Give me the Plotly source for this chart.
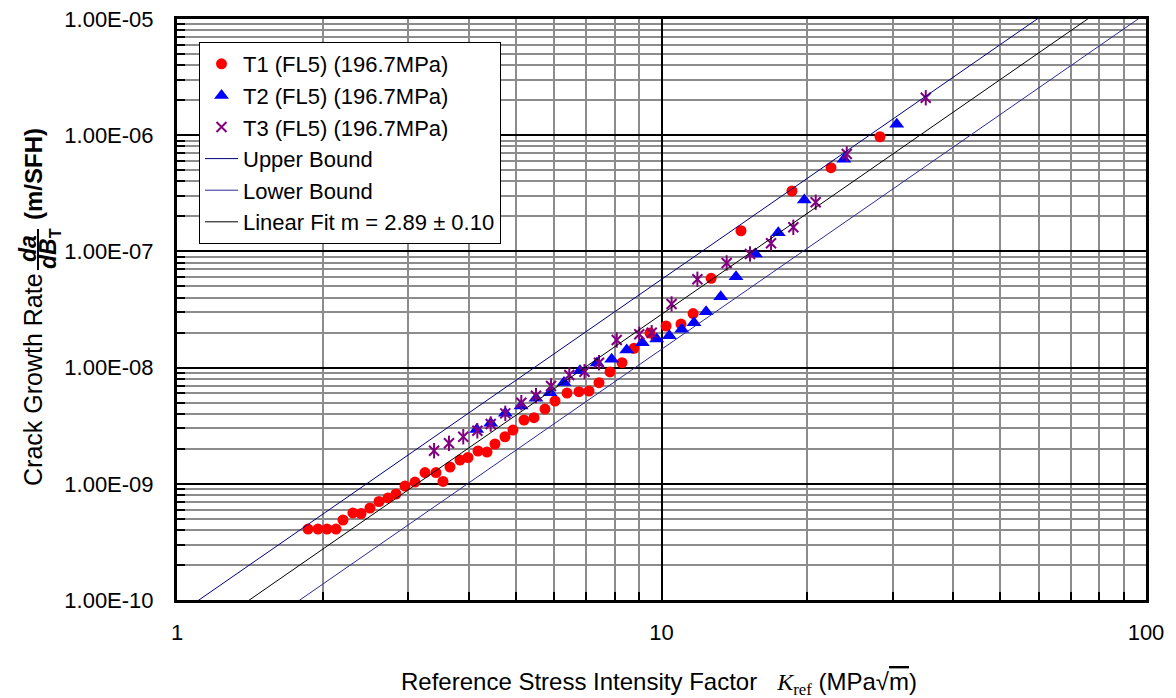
import plotly.graph_objects as go

# ---------------- data ----------------
T1_K = [1.864, 1.954, 2.040, 2.129, 2.201, 2.307, 2.398, 2.502, 2.612, 2.726, 2.831, 2.955,
        3.099, 3.250, 3.424, 3.540, 3.660, 3.838, 3.987, 4.181, 4.363, 4.532, 4.753, 4.937,
        5.203, 5.456, 5.748, 6.029, 6.383, 6.756, 7.086, 7.430, 7.829, 8.289, 8.773, 9.469,
        10.22, 10.97, 11.62, 12.66, 14.59, 18.59, 22.38, 28.25]
T1_rate = [4.08e-10, 4.08e-10, 4.08e-10, 4.08e-10, 4.88e-10, 5.61e-10, 5.55e-10, 6.19e-10,
           7.04e-10, 7.55e-10, 8.17e-10, 9.57e-10, 1.036e-9, 1.25e-9, 1.25e-9, 1.047e-9,
           1.395e-9, 1.60e-9, 1.684e-9, 1.915e-9, 1.878e-9, 2.20e-9, 2.54e-9, 2.90e-9,
           3.54e-9, 3.71e-9, 4.40e-9, 5.16e-9, 6.04e-9, 6.20e-9, 6.29e-9, 7.42e-9, 9.17e-9,
           1.102e-8, 1.466e-8, 1.985e-8, 2.28e-8, 2.37e-8, 2.92e-8, 5.87e-8, 1.506e-7,
           3.31e-7, 5.25e-7, 9.70e-7]

T2_K = [4.155, 4.441, 4.760, 5.129, 5.508, 5.888, 6.292, 6.788, 7.360, 7.890, 8.477, 9.129,
        9.774, 10.38, 11.01, 11.67, 12.36, 13.25, 14.25, 15.63, 17.42, 19.71, 23.80, 30.59]
T2_rate = [2.94e-9, 3.32e-9, 4.04e-9, 4.67e-9, 5.44e-9, 6.08e-9, 7.44e-9, 9.40e-9, 1.095e-8,
           1.179e-8, 1.417e-8, 1.637e-8, 1.762e-8, 1.88e-8, 2.14e-8, 2.43e-8, 3.03e-8,
           4.08e-8, 6.06e-8, 9.50e-8, 1.449e-7, 2.77e-7, 6.20e-7, 1.241e-6]

T3_K = [3.393, 3.642, 3.898, 4.168, 4.441, 4.760, 5.136, 5.508, 5.916, 6.452, 6.936, 7.430,
        8.083, 8.998, 9.546, 10.49, 11.86, 13.63, 15.23, 16.83, 18.71, 20.81, 24.12, 35.11]
T3_rate = [1.927e-9, 2.23e-9, 2.54e-9, 2.86e-9, 3.27e-9, 4.04e-9, 4.99e-9, 5.73e-9, 6.95e-9,
           8.64e-9, 9.22e-9, 1.102e-8, 1.728e-8, 1.934e-8, 1.996e-8, 3.53e-8, 5.75e-8,
           7.95e-8, 9.50e-8, 1.174e-7, 1.612e-7, 2.65e-7, 6.89e-7, 2.10e-6]

# Paris-law fit  da/dB = C * K^m, bounds = factor of 2 either side
FIT_C = 3.7e-11
FIT_M = 2.89
BOUND_FACTOR = 2.0
LINE_K = [1.0, 100.0]

X_TICKS = [1, 10, 100]
X_TICK_TEXT = ["1", "10", "100"]
Y_TICKS = [1e-10, 1e-9, 1e-8, 1e-7, 1e-6, 1e-5]
Y_TICK_TEXT = ["1.00E-10", "1.00E-09", "1.00E-08", "1.00E-07", "1.00E-06", "1.00E-05"]

LEGEND_NAMES = ["T1 (FL5) (196.7MPa)", "T2 (FL5) (196.7MPa)", "T3 (FL5) (196.7MPa)",
                "Upper Bound", "Lower Bound", "Linear Fit m = 2.89 \u00b1 0.10"]

# ---------------- derived ----------------
fit_y = [FIT_C * k ** FIT_M for k in LINE_K]
upper_y = [BOUND_FACTOR * FIT_C * k ** FIT_M for k in LINE_K]
lower_y = [FIT_C / BOUND_FACTOR * k ** FIT_M for k in LINE_K]

x_minor = [m * 10 ** d for d in range(0, 2) for m in range(2, 10)]
y_minor = [m * 10.0 ** d for d in range(-10, -5) for m in range(2, 10)]

FONT = "Liberation Sans, Arial, sans-serif"
FS = 22

fig = go.Figure()
fig.add_trace(go.Scatter(x=T1_K, y=T1_rate, mode="markers", name=LEGEND_NAMES[0],
                         marker=dict(symbol="circle", size=11, color="#ff0000")))
fig.add_trace(go.Scatter(x=T2_K, y=T2_rate, mode="markers", name=LEGEND_NAMES[1],
                         marker=dict(symbol="triangle-up", size=13, color="#0000ff")))
fig.add_trace(go.Scatter(x=T3_K, y=T3_rate, mode="markers", name=LEGEND_NAMES[2],
                         marker=dict(symbol="x-thin-open", size=10, color="#800080",
                                     line=dict(width=2, color="#800080"))))
fig.add_trace(go.Scatter(x=T3_K, y=T3_rate, mode="markers", showlegend=False, hoverinfo="skip",
                         marker=dict(symbol="line-ns-open", size=11, color="#800080",
                                     line=dict(width=2, color="#800080"))))
fig.add_trace(go.Scatter(x=LINE_K, y=upper_y, mode="lines", name=LEGEND_NAMES[3],
                         line=dict(color="#000080", width=1)))
fig.add_trace(go.Scatter(x=LINE_K, y=lower_y, mode="lines", name=LEGEND_NAMES[4],
                         line=dict(color="#2a2a9a", width=1)))
fig.add_trace(go.Scatter(x=LINE_K, y=fit_y, mode="lines", name=LEGEND_NAMES[5],
                         line=dict(color="#000000", width=1)))

axis_common = dict(
    type="log", automargin=False,
    showline=True, mirror=True, linecolor="black", linewidth=3,
    showgrid=True, gridcolor="black", gridwidth=2,
    ticks="inside", ticklen=8, tickcolor="black", tickwidth=2,
    tickfont=dict(family=FONT, size=FS, color="black"),
    zeroline=False,
)

fig.update_xaxes(
    **axis_common,
    range=[0, 2], tickmode="array", tickvals=X_TICKS, ticktext=X_TICK_TEXT,
    ticklabelstandoff=11,
    minor=dict(tickmode="array", tickvals=x_minor, ticks="inside", ticklen=8,
               tickcolor="black", tickwidth=2, showgrid=True, gridcolor="#8c8c8c", gridwidth=2),
)
fig.update_yaxes(
    **axis_common,
    range=[-10, -5], tickmode="array", tickvals=Y_TICKS, ticktext=Y_TICK_TEXT,
    ticklabelstandoff=16,
    minor=dict(tickmode="array", tickvals=y_minor, ticks="inside", ticklen=8,
               tickcolor="black", tickwidth=2, showgrid=True, gridcolor="#8c8c8c", gridwidth=2),
)

# axis titles as annotations (paper coords; plot box = 969 x 581 px)
def px_x(px):
    return (px - 177) / 969.0

def px_y(py):
    return (600 - py) / 581.0

TITLE_FS = 24
annotations = [
    dict(text="Reference Stress Intensity Factor   "
              "<span style='font-family:Liberation Serif, Times New Roman, serif'><i>K</i>"
              "<sub>ref</sub></span> (MPa\u221a<span style='text-decoration:overline'>m</span>)",
         x=px_x(659), y=px_y(683), xref="paper", yref="paper", showarrow=False,
         xanchor="center", yanchor="middle", font=dict(family=FONT, size=TITLE_FS, color="black")),
    dict(text="Crack Growth Rate", textangle=-90,
         x=px_x(33), y=px_y(380), xref="paper", yref="paper", showarrow=False,
         xanchor="center", yanchor="middle", font=dict(family=FONT, size=25, color="black")),
    dict(text="<b><i>da</i></b>", textangle=-90,
         x=px_x(28), y=px_y(249), xref="paper", yref="paper", showarrow=False,
         xanchor="center", yanchor="middle", font=dict(family=FONT, size=23, color="black")),
    dict(text="<b><i>dB</i><sub>T</sub></b>", textangle=-90,
         x=px_x(50), y=px_y(249), xref="paper", yref="paper", showarrow=False,
         xanchor="center", yanchor="middle", font=dict(family=FONT, size=23, color="black")),
    dict(text="<b>(m/SFH)</b>", textangle=-90,
         x=px_x(33), y=px_y(174), xref="paper", yref="paper", showarrow=False,
         xanchor="center", yanchor="middle", font=dict(family=FONT, size=24, color="black")),
]

shapes = [dict(type="line", xref="paper", yref="paper",
               x0=px_x(38), x1=px_x(38), y0=px_y(229), y1=px_y(270),
               line=dict(color="black", width=2))]

fig.update_layout(
    width=1176, height=698,
    margin=dict(l=177, r=30, t=19, b=98, autoexpand=False),
    paper_bgcolor="white", plot_bgcolor="white",
    font=dict(family=FONT, size=FS, color="black"),
    showlegend=True,
    legend=dict(x=px_x(199), y=px_y(42), xanchor="left", yanchor="top",
                bgcolor="white", bordercolor="black", borderwidth=1,
                font=dict(family=FONT, size=22, color="black"),
                itemwidth=33, tracegroupgap=0),
    annotations=annotations,
    shapes=shapes,
)

fig.write_html("out.html", config={"displayModeBar": False},
               post_script="document.body.style.margin='0';document.body.style.overflow='hidden';")
